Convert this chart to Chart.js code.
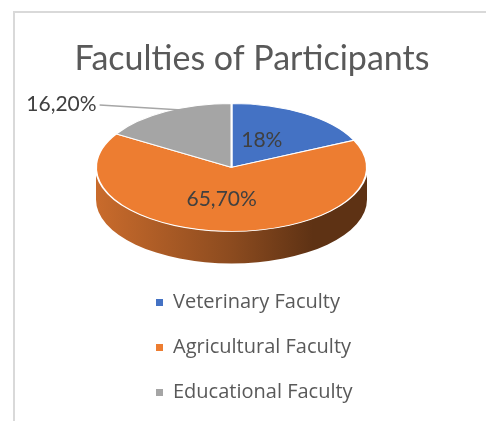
<!DOCTYPE html>
<html>
<head>
<meta charset="utf-8">
<script src="https://cdn.jsdelivr.net/npm/chart.js@4.4.0/dist/chart.umd.min.js"></script>
<style>
html, body { margin: 0; padding: 0; background: #fff; }
#wrap { position: relative; width: 486px; height: 421px; overflow: hidden; }
#frame { position: absolute; left: 13px; top: 11px; width: 520px; height: 460px;
         border-left: 2px solid #d9d9d9; border-top: 2px solid #d9d9d9; }
canvas { position: absolute; left: 0; top: 0; }
</style>
</head>
<body>
<div id="wrap">
  <div id="frame"></div>
  <canvas id="grafica-facultades" width="486" height="421"></canvas>
</div>
<script>
// ---------------------------------------------------------------------------
// DATA
// ---------------------------------------------------------------------------
var titulo = 'Faculties of Participants';
var facultades = ['Veterinary Faculty', 'Agricultural Faculty', 'Educational Faculty'];
var porcentajes = [18, 65.7, 16.2];
var etiquetas = ['18%', '65,70%', '16,20%'];
var colores = ['#4472c4', '#ed7d31', '#a5a5a5'];

// ---------------------------------------------------------------------------
// 3D LOOK: flatten the pie and add a side wall
// ---------------------------------------------------------------------------
var aplanado = 0.472;   // vertical squash of the pie
var profundidad = 32;   // height of the side wall, px

// colores del lateral (izquierda -> derecha)
var lateral = [
    ['#2f5597', '#1f3864', '#1f3864'],
    ['#c96b2c', '#8c4b1f', '#5e3214'],
    ['#8a8a8a', '#6a6a6a', '#555555']
];

function proyectar(chart, x, y) {
    var top = chart.chartArea.top;
    return { x: x, y: top + (y - top) * aplanado };
}

var pie3d = {
    id: 'pie3d',
    beforeDatasetsDraw: function(chart) {
        var ctx = chart.ctx;
        var top = chart.chartArea.top;
        var arcs = chart.getDatasetMeta(0).data;
        ctx.save();
        ctx.translate(0, top);
        ctx.scale(1, aplanado);
        ctx.translate(0, -top);
        var D = profundidad / aplanado;
        arcs.forEach(function(arc, i) {
            var p = arc.getProps(['x', 'y', 'startAngle', 'endAngle', 'outerRadius']);
            // only the front half of the wall is visible
            var a0 = Math.max(p.startAngle, 0);
            var a1 = Math.min(p.endAngle, Math.PI);
            if (a1 <= a0) return;
            var grad = ctx.createLinearGradient(p.x - p.outerRadius, 0, p.x + p.outerRadius, 0);
            grad.addColorStop(0, lateral[i][0]);
            grad.addColorStop(0.5, lateral[i][1]);
            grad.addColorStop(0.8, lateral[i][2]);
            grad.addColorStop(1, lateral[i][2]);
            ctx.beginPath();
            ctx.arc(p.x, p.y, p.outerRadius, a0, a1);
            ctx.arc(p.x, p.y + D, p.outerRadius, a1, a0, true);
            ctx.closePath();
            ctx.fillStyle = grad;
            ctx.fill();
        });
    },
    afterDatasetsDraw: function(chart) {
        var ctx = chart.ctx;
        ctx.restore();

        // etiquetas de datos
        var arcs = chart.getDatasetMeta(0).data;
        ctx.save();
        ctx.fillStyle = '#404040';
        ctx.font = '21px Lato';
        ctx.textBaseline = 'middle';
        arcs.forEach(function(arc, i) {
            var p = arc.getProps(['x', 'y', 'startAngle', 'endAngle', 'outerRadius']);
            var mitad = (p.startAngle + p.endAngle) / 2;
            if (i === 2) {
                // etiqueta fuera con linea guia
                var guia = mitad + 0.12;
                var borde = proyectar(chart, p.x + Math.cos(guia) * p.outerRadius * 0.97,
                                             p.y + Math.sin(guia) * p.outerRadius * 0.97);
                var tx = borde.x - 85, ty = borde.y - 6;
                ctx.strokeStyle = '#a6a6a6';
                ctx.lineWidth = 1.5;
                ctx.beginPath();
                ctx.moveTo(tx + 3, ty + 1);
                ctx.lineTo(borde.x, borde.y);
                ctx.stroke();
                ctx.textAlign = 'right';
                ctx.fillText(etiquetas[i], tx, ty);
            } else {
                var c = proyectar(chart, p.x + Math.cos(mitad) * p.outerRadius * 0.5,
                                         p.y + Math.sin(mitad) * p.outerRadius * 0.5);
                ctx.textAlign = 'center';
                ctx.fillText(etiquetas[i], c.x - 6, c.y);
            }
        });
        ctx.restore();
    },
    afterDraw: function(chart) {
        var ctx = chart.ctx;
        ctx.save();
        // titulo
        ctx.fillStyle = '#595959';
        ctx.font = '34px Lato';
        ctx.textAlign = 'center';
        ctx.textBaseline = 'alphabetic';
        ctx.fillText(titulo, 252, 70);
        // leyenda vertical
        ctx.font = '20px "Open Sans"';
        ctx.textAlign = 'left';
        facultades.forEach(function(nombre, i) {
            var base = 308 + i * 45;
            ctx.fillStyle = colores[i];
            ctx.fillRect(156, base - 9, 7, 7);
            ctx.fillStyle = '#595959';
            ctx.fillText(nombre, 173, base);
        });
        ctx.restore();
    }
};

// ---------------------------------------------------------------------------
// CHART
// ---------------------------------------------------------------------------
var ctx = document.getElementById('grafica-facultades').getContext('2d');
var grafica = new Chart(ctx, {
    type: 'pie',
    data: {
        labels: facultades,
        datasets: [{
            data: porcentajes,
            backgroundColor: colores,
            borderColor: '#ffffff',
            borderWidth: 2,
            hoverOffset: 0,
            clip: false
        }]
    },
    options: {
        responsive: false,
        animation: false,
        events: [],
        layout: { padding: { top: 103, left: 95, right: 118, bottom: 45 } },
        plugins: {
            legend: { display: false },
            title: { display: false },
            tooltip: { enabled: false }
        }
    },
    plugins: [pie3d]
});
</script>
</body>
</html>
